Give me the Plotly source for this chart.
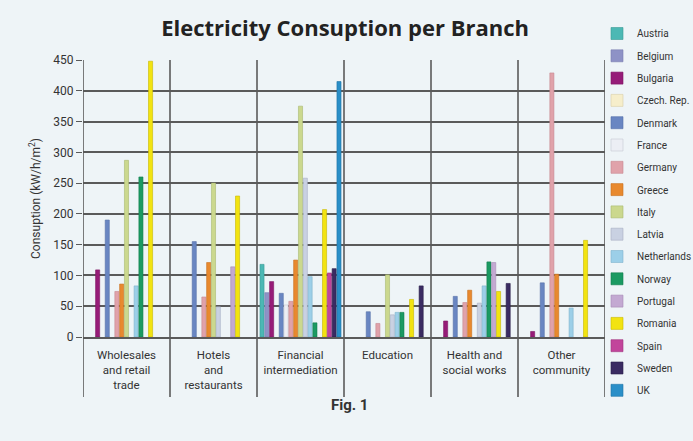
import plotly.graph_objects as go

branches = ["Wholesales<br>and retail<br>trade", "Hotels<br>and<br>restaurants", "Financial<br>intermediation",
            "Education", "Health and<br>social works", "Other<br>community"]

countries = ["Austria", "Belgium", "Bulgaria", "Czech. Rep.", "Denmark", "France", "Germany", "Greece",
             "Italy", "Latvia", "Netherlands", "Norway", "Portugal", "Romania", "Spain", "Sweden", "UK"]

austria = [None, None, 118, None, None, None]
belgium = [None, None, 72, None, None, None]
bulgaria = [109, None, 90, None, 26, 9]
czech = [None, None, None, None, None, None]
denmark = [190, 155, 71, 41, 66, 88]
france = [None, None, 52, None, None, None]
germany = [74, 65, 58, 22, 56, 429]
greece = [86, 121, 125, None, 76, 102]
italy = [287, 250, 375, 101, None, None]
latvia = [None, 49, 258, 36, 55, None]
netherlands = [83, None, 98, 40, 83, 47]
norway = [260, None, 23, 40, 122, None]
portugal = [None, 114, None, None, 121, None]
romania = [448, 229, 207, 61, 74, 157]
spain = [None, None, 104, None, None, None]
sweden = [None, None, 111, 83, 87, None]
uk = [None, None, 415, None, None, None]

series = [austria, belgium, bulgaria, czech, denmark, france, germany, greece, italy, latvia,
          netherlands, norway, portugal, romania, spain, sweden, uk]

colors = ["#4cb8b4", "#8e92c6", "#961c78", "#f6eecb", "#6986c2", "#eceef4", "#e0a2aa", "#e8892e",
          "#cbd88e", "#c9d1e2", "#9ccfe8", "#1b9a62", "#c3a9d2", "#f2e311", "#c2459b", "#3a2b62", "#2a8fc8"]
edges = ["#3a9a96", "#7a7eb0", "#7d1463", "#d8cfa8", "#5570a8", "#c8cad4", "#c88890", "#c8701e",
         "#aab870", "#a8b0c4", "#80b4cc", "#137d4e", "#a68cb6", "#c8b800", "#a03480", "#2a1e4a", "#1f74a6"]

FONT = "Roboto, sans-serif"
BG = "#eef4f7"
LINE = "#5a5a5a"

fig = go.Figure()
for i, (name, vals) in enumerate(zip(countries, series)):
    fig.add_trace(go.Bar(
        name=name, x=list(range(len(branches))), y=vals,
        marker=dict(color=colors[i], line=dict(color=edges[i], width=0.6)),
        legendgroup=name,
    ))

for k in range(len(branches) + 1):
    fig.add_shape(type="line", xref="x", yref="paper", x0=k - 0.5, x1=k - 0.5, y0=-0.217, y1=1,
                  line=dict(color=LINE, width=1.6), layer="above")

fig.update_layout(
    width=693, height=441,
    margin=dict(l=83, r=88, t=60, b=104, autoexpand=False),
    paper_bgcolor=BG, plot_bgcolor=BG,
    barmode="group", bargap=0.06, bargroupgap=0.15,
    font=dict(family=FONT, size=12, color="#333"),
    title=dict(text="<b>Electricity Consuption per Branch</b>", x=0.502, xref="paper", xanchor="center",
               y=1 - 28 / 441, yanchor="middle",
               font=dict(family="Open Sans, sans-serif", size=22, color="#222")),
    legend=dict(xref="container", yref="container", x=597 / 693, y=1 - 19 / 441,
                xanchor="left", yanchor="top", bgcolor="rgba(0,0,0,0)",
                font=dict(family=FONT, size=10, color="#333"), tracegroupgap=3.3,
                itemwidth=30, maxheight=441),
    xaxis=dict(tickmode="array", tickvals=list(range(len(branches))), ticktext=branches,
               range=[-0.5, len(branches) - 0.5], showgrid=False, showline=True,
               linecolor=LINE, linewidth=1.6, ticks="", ticklabelstandoff=6,
               tickfont=dict(size=11.5, color="#333")),
    yaxis=dict(range=[0, 450], dtick=50, showgrid=True, gridcolor=LINE, gridwidth=1.6,
               zeroline=False, ticks="outside", ticklen=6, tickcolor=LINE, tickwidth=1.2,
               tickfont=dict(size=12, color="#333"),
               title=dict(text="Consuption (kW/h/m<sup>2</sup>)", font=dict(size=12, color="#333"),
                          standoff=10)),
    showlegend=True,
)

fig.add_annotation(text="<b>Fig. 1</b>", xref="paper", yref="paper", x=0.51, y=-0.245,
                   showarrow=False, font=dict(family=FONT, size=15, color="#333"),
                   xanchor="center", yanchor="middle")

fig.write_html("out.html")
